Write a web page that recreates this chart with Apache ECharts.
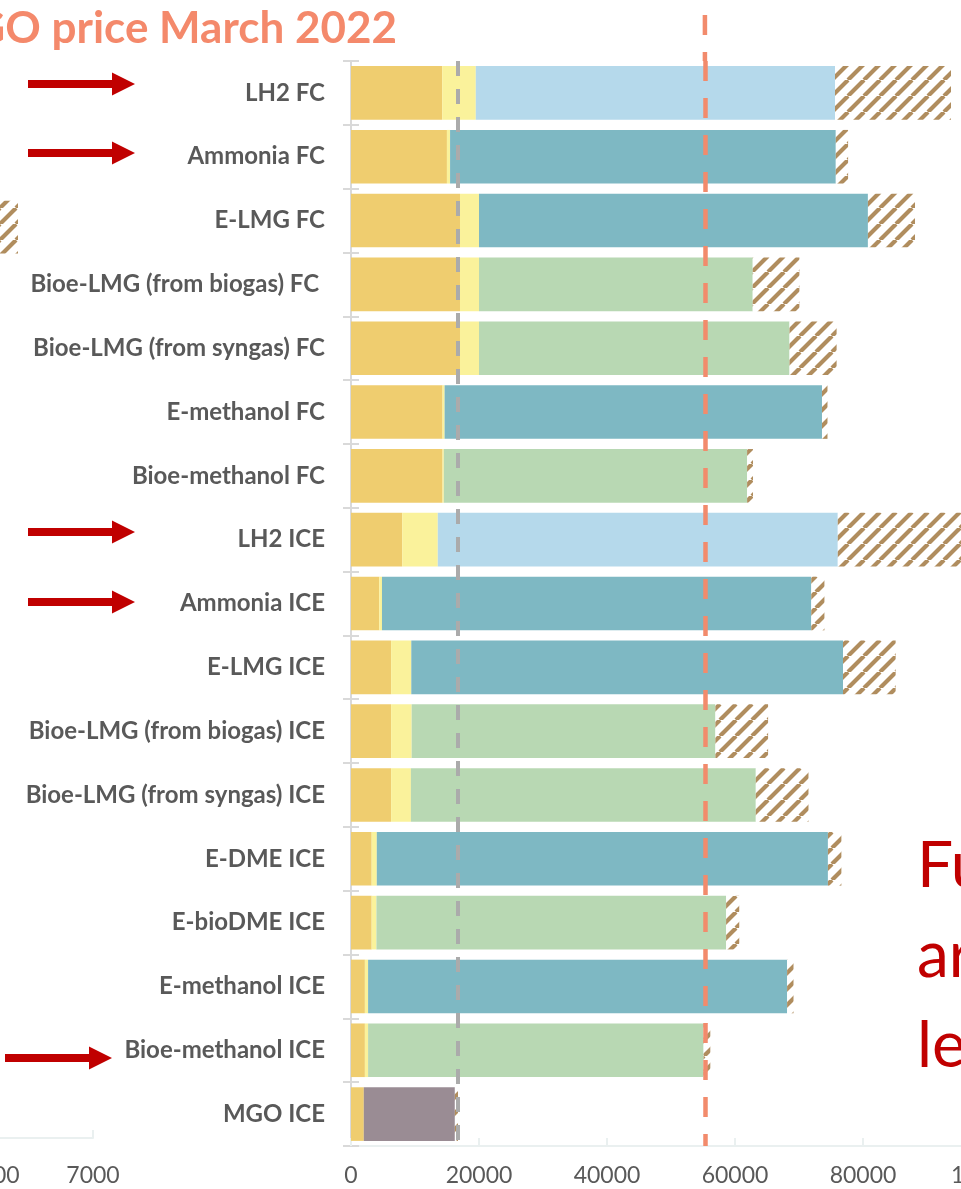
<!DOCTYPE html>
<html><head><meta charset="utf-8">
<script src="https://cdn.jsdelivr.net/npm/echarts/dist/echarts.min.js"></script>
<style>html,body{margin:0;padding:0;background:#fff;overflow:hidden}#c{width:961px;height:1189px}</style>
</head><body><div id="c"></div>
<script>
// ---- data ----
const categories = ['LH2 FC','Ammonia FC','E-LMG FC','Bioe-LMG (from biogas) FC ','Bioe-LMG (from syngas) FC','E-methanol FC','Bioe-methanol FC','LH2 ICE','Ammonia ICE','E-LMG ICE','Bioe-LMG (from biogas) ICE','Bioe-LMG (from syngas) ICE','E-DME ICE','E-bioDME ICE','E-methanol ICE','Bioe-methanol ICE','MGO ICE'];
const powertrainCost = [14250,14990,17030,17030,17030,14310,14310,8000,4410,6270,6270,6270,3230,3230,2170,2170,2000];
const storageCost    = [5250,490,2970,2970,2970,315,190,5560,430,3150,3210,3090,800,740,500,500,0];
const fuelCost       = [56125,60270,60770,42770,48520,58965,47390,62500,67080,67455,47460,53890,70490,54640,65470,52420,14230];
const fuelType       = ['h2','e','e','bio','bio','e','bio','h2','e','e','bio','bio','e','bio','e','bio','fossil'];
const uncertainty    = [18125,1920,7355,7290,7355,860,920,22000,2050,8225,8230,8230,2100,2050,1000,1050,490];
const mgoReference = 16700;
const mgoPriceMarch2022 = 55300;
const xTicks = {min:0, max:100000, interval:20000};
// partially visible neighbouring chart (left edge of the picture)
const leftTicks = {min:0, max:7000, interval:1000};
const leftSolid = [null,null,5600,null,null,null,null,null,null,null,null,null,null,null,null,null,null];
const leftHatch = [null,null,650,null,null,null,null,null,null,null,null,null,null,null,null,null,null];
const arrowRows = [{y:84,x0:28},{y:153,x0:28},{y:532,x0:28},{y:602,x0:28},{y:1058,x0:5}];
const sideText = ['Fuel','are','less'];

// ---- styles ----
const typeColor = {h2:'#B5D9EB', e:'#7EB8C3', bio:'#B8D8B3', fossil:'#9A8C94'};
function hatch(){
  const s=16, c=document.createElement('canvas'); c.width=s; c.height=s;
  const g=c.getContext('2d'); g.fillStyle='#fff'; g.fillRect(0,0,s,s);
  g.strokeStyle='#B08D5E'; g.lineWidth=4.2; g.beginPath();
  for (const k of [-1,0,1]) { g.moveTo(k*s, s); g.lineTo(k*s+s, 0); }
  g.stroke(); return c;
}
const hatchFill = {image: hatch(), repeat: 'repeat'};
const FONT = 'Lato, "Open Sans", sans-serif';
const plain = v => String(v);
const chart = echarts.init(document.getElementById('c'), null, {renderer:'canvas'});
const common = {type:'bar', stack:'total', xAxisIndex:0, yAxisIndex:0, barCategoryGap:'16%', silent:true};

const graphics = [];
graphics.push({type:'text', z:100, style:{text:'MGO price March 2022', x:397, y:29, align:'right', verticalAlign:'middle', font:'bold 44px '+FONT, fill:'#F4896B'}});
sideText.forEach((t,i)=>graphics.push({type:'text', z:100, style:{text:t, x:917, y:866+i*90, align:'left', verticalAlign:'middle', font:'64px '+FONT, fill:'#C00000'}}));
arrowRows.forEach(a=>{
  const tip = a.x0===5 ? 112 : 135, neck = tip-23;
  graphics.push({type:'polygon', z:100, shape:{points:[[a.x0,a.y-4],[neck,a.y-4],[neck,a.y-11.5],[tip,a.y],[neck,a.y+11.5],[neck,a.y+4],[a.x0,a.y+4]]}, style:{fill:'#C00000'}});
});

chart.setOption({
  animation:false,
  backgroundColor:'#fff',
  grid:[
    {left:351, top:61, width:640, height:1085, outerBoundsMode:'none', containLabel:false},
    {left:-607, top:70, width:700, height:1068, outerBoundsMode:'none', containLabel:false}
  ],
  xAxis:[
    {type:'value', gridIndex:0, min:xTicks.min, max:xTicks.max, interval:xTicks.interval,
     axisLine:{show:true, lineStyle:{color:'#EAF0F0', width:2}},
     axisTick:{show:true, inside:true, length:8, lineStyle:{color:'#EAF0F0', width:2}},
     splitLine:{show:false},
     axisLabel:{color:'#595959', fontSize:23, fontFamily:FONT, margin:18, formatter:plain}},
    {type:'value', gridIndex:1, min:leftTicks.min, max:leftTicks.max, interval:leftTicks.interval,
     axisLine:{show:true, lineStyle:{color:'#EAF0F0', width:2}},
     axisTick:{show:true, inside:true, length:8, lineStyle:{color:'#EAF0F0', width:2}},
     splitLine:{show:false},
     axisLabel:{color:'#595959', fontSize:23, fontFamily:FONT, margin:26, formatter:plain}}
  ],
  yAxis:[
    {type:'category', gridIndex:0, data:categories, inverse:true, position:'left',
     axisLine:{show:true, lineStyle:{color:'#D9D9D9', width:2}},
     axisTick:{show:true, length:8, lineStyle:{color:'#D9D9D9', width:2}},
     axisLabel:{color:'#595959', fontWeight:'bold', fontSize:24, fontFamily:FONT, margin:26}},
    {type:'category', gridIndex:0, data:categories, inverse:true, position:'left', offset:0,
     axisLine:{show:false}, axisLabel:{show:false},
     axisTick:{show:true, inside:true, length:8, lineStyle:{color:'#D9D9D9', width:2}}},
    {type:'category', gridIndex:1, data:categories, inverse:true, show:false}
  ],
  series:[
    {...common, name:'Powertrain', data:powertrainCost, itemStyle:{color:'#EFCD6F'}},
    {...common, name:'Storage', data:storageCost, itemStyle:{color:'#FAF29B'}},
    {...common, name:'Fuel', data:fuelCost.map((v,i)=>({value:v, itemStyle:{color:typeColor[fuelType[i]]}})),
     markLine:{silent:true, symbol:['none','none'], label:{show:false}, z:10,
       data:[
         {xAxis:mgoReference, lineStyle:{color:'#ABABAB', width:4, type:[15,13]}},
         {xAxis:mgoPriceMarch2022, lineStyle:{color:'#F28B6C', width:4.5, type:[20,17]}}
       ]}},
    {...common, name:'Uncertainty', data:uncertainty, itemStyle:{color:hatchFill}},
    {type:'bar', stack:'left', xAxisIndex:1, yAxisIndex:2, barCategoryGap:'16%', silent:true, data:leftSolid, itemStyle:{color:'#7EB8C3'}},
    {type:'bar', stack:'left', xAxisIndex:1, yAxisIndex:2, barCategoryGap:'16%', silent:true, data:leftHatch, itemStyle:{color:hatchFill}}
  ],
  graphic: graphics
});
// continuation of the MGO-price line above the plot area
const px = chart.convertToPixel({xAxisIndex:0}, mgoPriceMarch2022);
graphics.push({type:'line', z:100, shape:{x1:px, y1:15, x2:px, y2:61}, style:{stroke:'#F28B6C', lineWidth:4.5, lineDash:[20,17]}});
chart.setOption({graphic: graphics});
</script></body></html>
